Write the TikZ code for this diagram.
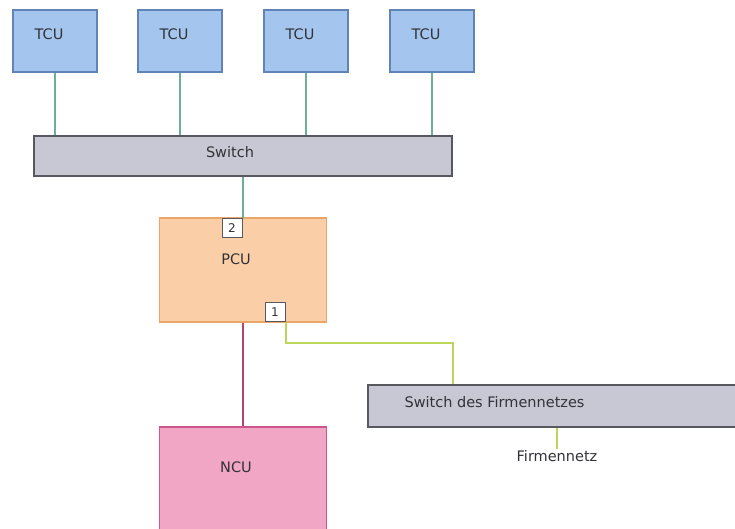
\documentclass[tikz,border=0pt]{standalone}
\usepackage{fontspec}
\setmainfont{DejaVu Sans}
\usetikzlibrary{calc,positioning}

\definecolor{tcufill}{RGB}{164,198,238}
\definecolor{tculine}{RGB}{96,132,182}
\definecolor{swfill}{RGB}{200,200,212}
\definecolor{swline}{RGB}{88,88,96}
\definecolor{pcufill}{RGB}{250,207,168}
\definecolor{pculine}{RGB}{234,166,104}
\definecolor{ncufill}{RGB}{240,166,196}
\definecolor{nculine}{RGB}{204,86,140}
\definecolor{lanteal}{RGB}{108,174,150}
\definecolor{lanred}{RGB}{176,70,112}
\definecolor{lanlime}{RGB}{188,214,92}
\definecolor{txtgray}{RGB}{50,50,56}

\begin{document}
\begin{tikzpicture}[
    x=1pt, y=-1pt,
    box/.style   = {draw, line width=1.3pt, inner sep=0pt},
    tcu/.style   = {box, fill=tcufill, draw=tculine,
                    minimum width=84, minimum height=62},
    sw/.style    = {box, fill=swfill, draw=swline},
    pcu/.style   = {box, fill=pcufill, draw=pculine,
                    minimum width=167, minimum height=104},
    ncu/.style   = {box, fill=ncufill, draw=nculine,
                    minimum width=167, minimum height=108},
    port/.style  = {box, fill=white, draw=swline, line width=1pt, text=txtgray,
                    minimum width=20, minimum height=19, font=\fontsize{12}{13}\selectfont},
    txt/.style   = {text=txtgray, font=\fontsize{14.5}{16}\selectfont, inner sep=1pt},
    link/.style  = {line width=2pt}
  ]

  \useasboundingbox (0,0) rectangle (735,529);

  \coordinate (origin) at (0,0);

  % terminals
  \foreach \i/\x in {1/55,2/180,3/306,4/432} {
    \node[tcu] (T\i) at ($(origin)+(\x,41)$) {};
    \node[txt] (T\i t) at ($(T\i)+(-6,-7)$) {TCU};
  }

  \node[sw, minimum width=418, minimum height=40] (SW) at ($(origin)+(243,156)$) {};
  \node[txt] (SWt) at ($(SW)+(-13,-4)$) {Switch};

  \node[pcu] (PCU) at ($(origin)+(243,270)$) {};
  \node[txt] (PCUt) at ($(PCU)+(-7,-11)$) {PCU};
  \node[port] (P2) at ($(origin)+(232,228)$) {2};
  \node[port] (P1) at ($(origin)+(275,312)$) {1};

  \node[ncu] (NCU) at ($(origin)+(243,481)$) {};
  \node[txt] (NCUt) at ($(NCU)+(-7,-14)$) {NCU};

  \node[sw, minimum width=372, minimum height=42] (SWF) at ($(origin)+(554,406)$) {};
  \node[txt, anchor=west] (SWFt) at ($(SWF.west)+(36,-4)$) {Switch des Firmennetzes};
  \node[txt] (FN) at ($(origin)+(557,456)$) {Firmennetz};

  \coordinate (bend) at ($(origin)+(453,343)$);

  % links
  \foreach \i in {1,...,4}
    \draw[link, lanteal] (T\i.south) -- (T\i.south |- SW.north);
  \draw[link, lanteal] (P2.north east |- SW.south) -- (P2.north east);
  \draw[link, lanred] (PCU.south) -- (NCU.north);
  \draw[link, lanlime] (P1.south east) |- (bend) -- (bend |- SWF.north);
  \draw[link, lanlime] (SWF.south -| FN) -- (FN.north);

\end{tikzpicture}
\end{document}
